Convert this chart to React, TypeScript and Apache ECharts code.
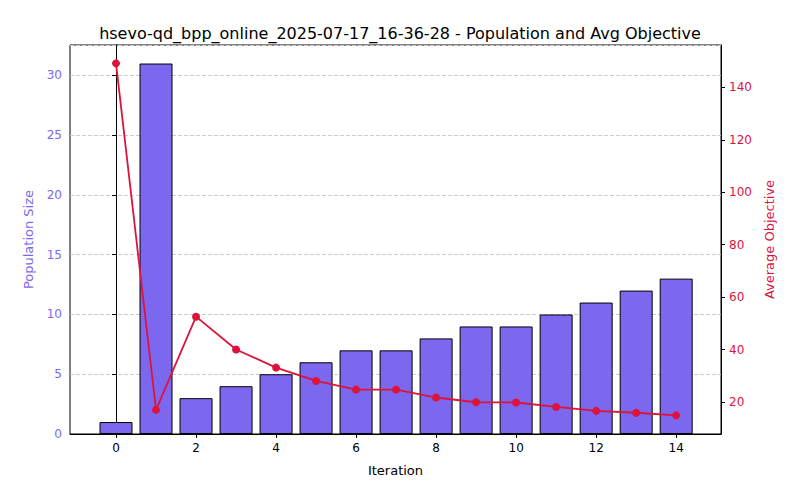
import React, { useEffect, useRef } from 'react';
import * as echarts from 'echarts';

const iterations = [0, 1, 2, 3, 4, 5, 6, 7, 8, 9, 10, 11, 12, 13, 14];
const popSize = [1, 31, 3, 4, 5, 6, 7, 7, 8, 9, 9, 10, 11, 12, 13];
const avgObj = [149.1, 17.1, 52.6, 40.1, 33.2, 28.1, 24.8, 24.8, 21.8, 20.0, 19.9, 18.2, 16.7, 16.0, 15.0];
const xTicks = [0, 2, 4, 6, 8, 10, 12, 14];
const rightTicks = [20, 40, 60, 80, 100, 120, 140];

const PURPLE = '#7b68ee';
const RED = '#dc143c';
const FONT = 'DejaVu Sans';

const App: React.FC = () => {
  const ref = useRef<HTMLDivElement>(null);

  useEffect(() => {
    if (!ref.current) return;
    const chart = echarts.init(ref.current, undefined, { renderer: 'svg' });
    chart.setOption({
      animation: false,
      textStyle: { fontFamily: FONT },
      title: {
        text: 'hsevo-qd_bpp_online_2025-07-17_16-36-28 - Population and Avg Objective',
        left: 'center', top: 12,
        textStyle: { fontSize: 16, fontWeight: 'normal', color: '#000', fontFamily: FONT },
      },
      grid: { left: 62, right: 71, top: 37, bottom: 58, show: true, borderColor: '#000', borderWidth: 1 },
      xAxis: {
        type: 'value', min: -1.15, max: 15.12,
        name: 'Iteration', nameLocation: 'middle', nameGap: 30,
        nameTextStyle: { fontSize: 13, color: '#000' },
        axisLine: { show: true, lineStyle: { color: '#000' } },
        axisTick: { show: true, customValues: xTicks, length: 4, lineStyle: { color: '#000' } },
        axisLabel: { customValues: xTicks, fontSize: 12, color: '#000' },
        splitLine: { show: false },
      },
      yAxis: [
        {
          type: 'value', min: 0, max: 32.55, interval: 5,
          name: 'Population Size', nameLocation: 'middle', nameGap: 35,
          nameTextStyle: { fontSize: 13, color: PURPLE },
          axisLine: { show: true, lineStyle: { color: '#000' } },
          axisTick: { show: true, length: 4, lineStyle: { color: '#000' } },
          axisLabel: { fontSize: 12, color: PURPLE, showMaxLabel: false },
          splitLine: { show: true, lineStyle: { type: 'dashed', color: '#ccc' } },
        },
        {
          type: 'value', min: 7.9, max: 156.1, position: 'right',
          name: 'Average Objective', nameLocation: 'middle', nameGap: 42, nameRotate: 90,
          nameTextStyle: { fontSize: 13, color: RED },
          axisLine: { show: true, lineStyle: { color: '#000' } },
          axisTick: { show: true, customValues: rightTicks, length: 4, lineStyle: { color: '#000' } },
          axisLabel: { customValues: rightTicks, fontSize: 12, color: RED },
          splitLine: { show: false },
        },
      ],
      series: [
        {
          type: 'bar', yAxisIndex: 0, barWidth: 33,
          data: iterations.map((x, i) => [x, popSize[i]]),
          itemStyle: { color: PURPLE, borderColor: '#000', borderWidth: 1 },
        },
        {
          type: 'line', yAxisIndex: 1,
          data: iterations.map((x, i) => [x, avgObj[i]]),
          symbol: 'circle', symbolSize: 8,
          lineStyle: { color: RED, width: 1.8 },
          itemStyle: { color: RED },
        },
      ],
    });
    return () => chart.dispose();
  }, []);

  return <div ref={ref} style={{ width: 784, height: 484 }} />;
};

export default App;
